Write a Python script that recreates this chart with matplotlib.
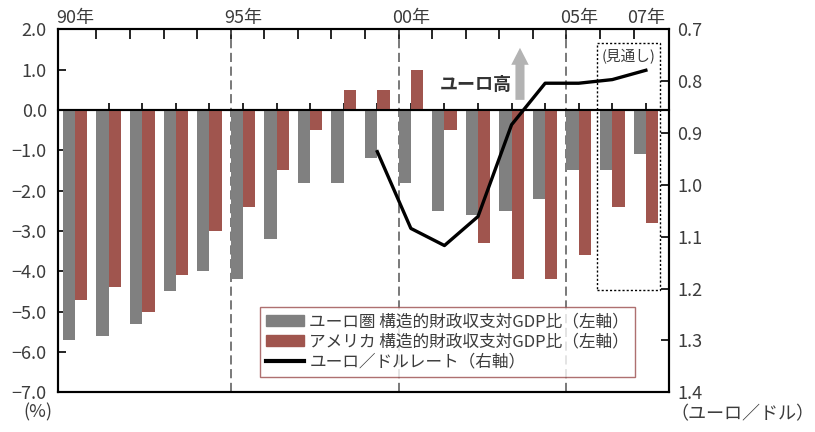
import matplotlib
matplotlib.use("Agg")
import matplotlib.pyplot as plt
from matplotlib.patches import Rectangle, FancyArrow
from matplotlib.lines import Line2D
from matplotlib.patches import Patch
import numpy as np

plt.rcParams['font.family'] = ['Noto Sans CJK JP', 'DejaVu Sans']

# 構造的財政収支対GDP比（%）
years = list(range(1990, 2008))
euro_balance = [-5.7, -5.6, -5.3, -4.5, -4.0, -4.2, -3.2, -1.8, -1.8, -1.2,
                -1.8, -2.5, -2.6, -2.5, -2.2, -1.5, -1.5, -1.1]
us_balance = [-4.7, -4.4, -5.0, -4.1, -3.0, -2.4, -1.5, -0.5, 0.5, 0.5,
              1.0, -0.5, -3.3, -4.2, -4.2, -3.6, -2.4, -2.8]

# ユーロ／ドルレート（右軸）
rate_years = list(range(1999, 2008))
euro_dollar = [0.936, 1.084, 1.117, 1.061, 0.884, 0.804, 0.804, 0.797, 0.779]

year_labels = {1990: '90年', 1995: '95年', 2000: '00年', 2005: '05年', 2007: '07年'}
divider_years = [1995, 2000, 2005]
forecast_years = [2006, 2007]
left_ticks = [2.0, 1.0, 0.0, -1.0, -2.0, -3.0, -4.0, -5.0, -6.0, -7.0]
right_ticks = [0.7, 0.8, 0.9, 1.0, 1.1, 1.2, 1.3, 1.4]

GRAY = '#808080'
RED = '#a0554e'
TXT = '#3c3c3c'

x = np.arange(len(years))
w = 0.3675

fig = plt.figure(figsize=(8.15, 4.32), dpi=100)
ax = fig.add_axes([0.0712, 0.0919, 0.7497, 0.8403])
ax.set_axisbelow(True)

ax.bar(x - w / 2, euro_balance, w, color=GRAY, zorder=2)
ax.bar(x + w / 2, us_balance, w, color=RED, zorder=2)

ax.set_xlim(-0.51, 17.69)
ax.set_ylim(-7.0, 2.0)
ax.set_yticks(left_ticks)
ax.set_yticklabels([f'{v:.1f}'.replace('-', '−') for v in left_ticks])
ax.tick_params(axis='y', direction='in', length=6, width=1.2, pad=8,
               labelsize=13, labelcolor=TXT)

# 上辺の目盛り（各年の左端）
ax.set_xticks(x[1:] - w)
ax.tick_params(axis='x', top=True, bottom=False, labeltop=False,
               labelbottom=False, direction='in', length=7, width=1.2)
for s in ax.spines.values():
    s.set_linewidth(1.5)

for yr, lab in year_labels.items():
    ax.text(years.index(yr), 1.005, lab, transform=ax.get_xaxis_transform(),
            ha='center', va='bottom', fontsize=13, color=TXT)

# 0%ライン（各年の中央に目盛り）
zero = ax.secondary_xaxis(7.0 / 9.0)
zero.set_xticks(x[1:])
zero.tick_params(direction='out', length=5, width=1.2, labeltop=False,
                 labelbottom=False)
zero.spines['top'].set_linewidth(1.5)
ax.axhline(0, color='black', lw=1.5, zorder=3)

for yr in divider_years:
    ax.axvline(years.index(yr) - w, color='#555555', lw=1.1,
               ls=(0, (6, 3)), zorder=1)

# 見通し枠
fx0 = years.index(forecast_years[0]) - w - 0.1
fx1 = years.index(forecast_years[-1]) + w + 0.06
ax.add_patch(Rectangle((fx0, -4.46), fx1 - fx0, 1.67 + 4.46, fill=False,
                       ls=(0, (1.5, 1.5)), lw=1.0, ec='black', zorder=4))
ax.text((fx0 + fx1) / 2, 1.32, '(見通し)', ha='center', va='center',
        fontsize=10.5, color=TXT)

# ユーロ高の矢印
ax.add_patch(FancyArrow(13.25, 0.25, 0, 1.29, width=0.27, head_width=0.52,
                        head_length=0.42, length_includes_head=True,
                        color='#b3b3b3', lw=0, zorder=3))
ax.text(13.0, 0.63, 'ユーロ高', ha='right', va='center', fontsize=13,
        fontweight='bold', color='#333333')

ax2 = ax.twinx()
ax2.plot([years.index(y) for y in rate_years], euro_dollar, color='black',
         lw=2.4, zorder=5)
ax2.set_ylim(1.4, 0.7)
ax2.set_yticks(right_ticks)
ax2.set_yticklabels([f'{v:.1f}' for v in right_ticks])
ax2.tick_params(axis='y', direction='in', length=6, width=1.2, pad=6,
                labelsize=13, labelcolor=TXT)
for s in ax2.spines.values():
    s.set_linewidth(1.5)

fig.text(0.047, 0.045, '(%)', ha='center', va='center', fontsize=13, color=TXT)
fig.text(0.823, 0.04, '（ユーロ／ドル）', ha='left', va='center', fontsize=13,
         color=TXT)

handles = [Patch(color=GRAY), Patch(color=RED),
           Line2D([], [], color='black', lw=3)]
labels = ['ユーロ圏 構造的財政収支対GDP比（左軸）',
          'アメリカ 構造的財政収支対GDP比（左軸）',
          'ユーロ／ドルレート（右軸）']
leg = ax2.legend(handles, labels, loc='lower left',
                 bbox_to_anchor=(0.331, 0.043), borderaxespad=0,
                 fontsize=12, frameon=True, fancybox=False,
                 handlelength=2.3, handleheight=0.6, handletextpad=0.3,
                 labelspacing=0.2, borderpad=0.35, labelcolor=TXT)
leg.get_frame().set_edgecolor('#9a4c4c')
leg.get_frame().set_linewidth(1.0)
leg.set_zorder(10)

fig.savefig('out.png', dpi=100)
